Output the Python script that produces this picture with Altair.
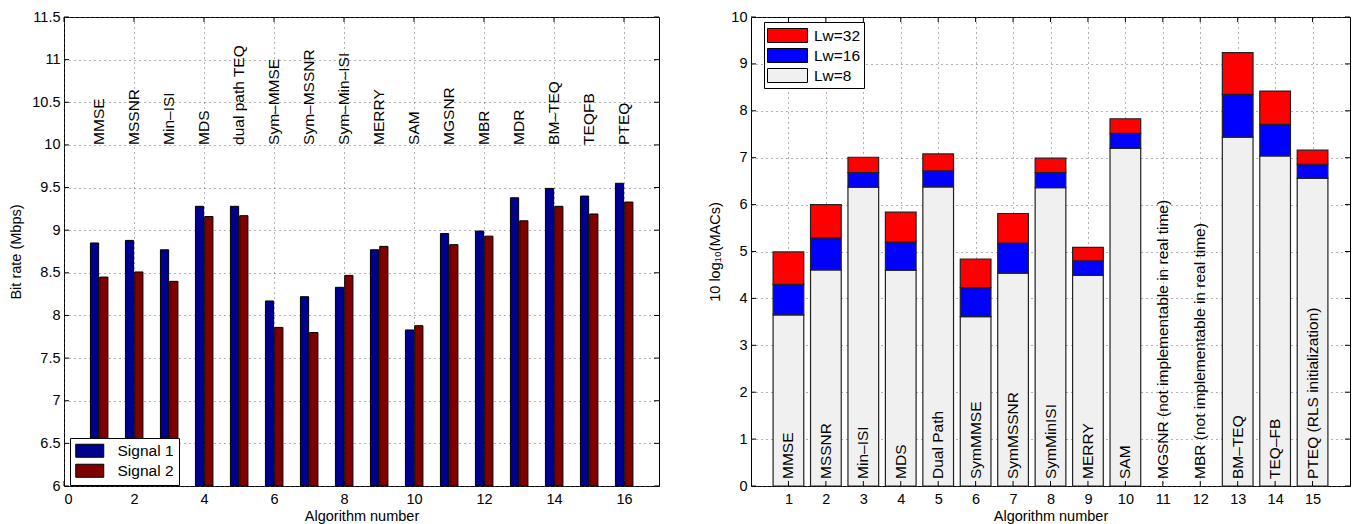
import altair as alt
import pandas as pd

FONT = "Liberation Sans"

# ---------------- left chart data ----------------
alg_left = list(range(1, 17))
names_left = ["MMSE", "MSSNR", "Min\u2013ISI", "MDS", "dual path TEQ", "Sym\u2013MMSE",
              "Sym\u2013MSSNR", "Sym\u2013Min\u2013ISI", "MERRY", "SAM", "MGSNR", "MBR",
              "MDR", "BM\u2013TEQ", "TEQFB", "PTEQ"]
signal1 = [8.85, 8.88, 8.77, 9.28, 9.28, 8.17, 8.22, 8.33, 8.77, 7.83, 8.96, 8.99, 9.38, 9.49, 9.40, 9.55]
signal2 = [8.45, 8.51, 8.40, 9.16, 9.17, 7.86, 7.80, 8.47, 8.81, 7.88, 8.83, 8.93, 9.11, 9.28, 9.19, 9.33]
left_xticks = [0, 2, 4, 6, 8, 10, 12, 14, 16]
left_yticks = [6, 6.5, 7, 7.5, 8, 8.5, 9, 9.5, 10, 10.5, 11, 11.5]

# ---------------- right chart data ----------------
alg_right = list(range(1, 16))
names_right = ["MMSE", "MSSNR", "Min\u2013ISI", "MDS", "Dual Path", "SymMMSE", "SymMSSNR",
               "SymMinISI", "MERRY", "SAM", "MGSNR (not implementable in real time)",
               "MBR (not implementable in real time)", "BM\u2013TEQ", "TEQ\u2013FB",
               "PTEQ (RLS initialization)"]
lw8 = [3.65, 4.61, 6.37, 4.60, 6.38, 3.61, 4.54, 6.36, 4.49, 7.20, None, None, 7.44, 7.04, 6.56]
lw16 = [4.30, 5.29, 6.68, 5.20, 6.72, 4.23, 5.18, 6.68, 4.80, 7.52, None, None, 8.35, 7.71, 6.86]
lw32 = [4.99, 6.00, 7.01, 5.84, 7.08, 4.84, 5.81, 6.99, 5.09, 7.83, None, None, 9.24, 8.42, 7.16]
right_xticks = list(range(1, 16))
right_yticks = [0, 1, 2, 3, 4, 5, 6, 7, 8, 9, 10]

LW, LH = 595, 469
RW, RH = 599, 469
TXT = 15.5

# ---------------- left chart ----------------
rows = []
for a, s1, s2 in zip(alg_left, signal1, signal2):
    rows.append({"x0": a - 0.245, "x1": a - 0.01, "lo": 6, "val": s1, "series": "Signal 1"})
    rows.append({"x0": a + 0.02, "x1": a + 0.255, "lo": 6, "val": s2, "series": "Signal 2"})
df_left = pd.DataFrame(rows)

xs_left = alt.Scale(domain=[0, 17], nice=False, zero=False)
ys_left = alt.Scale(domain=[6, 11.5], nice=False, zero=False)
ax_lx = alt.Axis(values=left_xticks, title="Algorithm number", grid=True, format="d")
ax_ly = alt.Axis(values=left_yticks, title="Bit rate (Mbps)", grid=True, format="~g")

bars_left = alt.Chart(df_left).mark_rect(stroke="black", strokeWidth=1, clip=True).encode(
    x=alt.X("x0:Q", scale=xs_left, axis=ax_lx),
    x2="x1:Q",
    y=alt.Y("val:Q", scale=ys_left, axis=ax_ly),
    y2="lo:Q",
    color=alt.Color("series:N",
                    scale=alt.Scale(domain=["Signal 1", "Signal 2"], range=["#00008F", "#800000"]),
                    legend=alt.Legend(title=None, orient="none", legendX=6, legendY=421,
                                      symbolType="M-1,-0.93H3V0.93H-1Z", symbolSize=196,
                                      symbolStrokeColor="black", symbolStrokeWidth=1,
                                      symbolOpacity=1, labelFontSize=TXT, labelFont=FONT,
                                      labelColor="black",
                                      fillColor="white", strokeColor="black", padding=5,
                                      rowPadding=2, labelOffset=27)),
)

df_lt = pd.DataFrame({"alg": alg_left, "name": names_left})
text_left = alt.Chart(df_lt).mark_text(angle=270, align="left", baseline="middle",
                                       font=FONT, fontSize=TXT, color="black").encode(
    x=alt.X("alg:Q", scale=xs_left, axis=ax_lx),
    y=alt.YDatum(10, scale=ys_left, axis=ax_ly),
    text="name:N",
)

df_lxt = pd.DataFrame({"v": left_xticks})
df_lyt = pd.DataFrame({"v": left_yticks})
tk = dict(color="black", strokeWidth=1)
lt_b = alt.Chart(df_lxt).mark_rule(**tk).encode(x=alt.X("v:Q", scale=xs_left, axis=ax_lx),
                                                y=alt.value(LH - 5), y2=alt.value(LH))
lt_t = alt.Chart(df_lxt).mark_rule(**tk).encode(x=alt.X("v:Q", scale=xs_left, axis=ax_lx),
                                                y=alt.value(0), y2=alt.value(5))
lt_l = alt.Chart(df_lyt).mark_rule(**tk).encode(y=alt.Y("v:Q", scale=ys_left, axis=ax_ly),
                                                x=alt.value(0), x2=alt.value(5))
lt_r = alt.Chart(df_lyt).mark_rule(**tk).encode(y=alt.Y("v:Q", scale=ys_left, axis=ax_ly),
                                                x=alt.value(LW - 5), x2=alt.value(LW))

left = alt.layer(bars_left, text_left, lt_b, lt_t, lt_l, lt_r).properties(width=LW, height=LH)

# ---------------- right chart ----------------
rows = []
for a, v8, v16, v32 in zip(alg_right, lw8, lw16, lw32):
    if v8 is None:
        continue
    rows.append({"x0": a - 0.41, "x1": a + 0.41, "lo": 0, "hi": v8, "series": "Lw=8"})
    rows.append({"x0": a - 0.41, "x1": a + 0.41, "lo": v8, "hi": v16, "series": "Lw=16"})
    rows.append({"x0": a - 0.41, "x1": a + 0.41, "lo": v16, "hi": v32, "series": "Lw=32"})
df_right = pd.DataFrame(rows)

xs_right = alt.Scale(domain=[0, 16], nice=False, zero=False)
ys_right = alt.Scale(domain=[0, 10], nice=False)
ax_rx = alt.Axis(values=right_xticks, title="Algorithm number", grid=True, format="d")
ax_ry = alt.Axis(values=right_yticks, title="10 log\u2081\u2080(MACs)", grid=True, format="d")

bars_right = alt.Chart(df_right).mark_rect(stroke="#222222", strokeWidth=1.2).encode(
    x=alt.X("x0:Q", scale=xs_right, axis=ax_rx),
    x2="x1:Q",
    y=alt.Y("hi:Q", scale=ys_right, axis=ax_ry),
    y2="lo:Q",
    color=alt.Color("series:N",
                    scale=alt.Scale(domain=["Lw=32", "Lw=16", "Lw=8"],
                                    range=["#FF0000", "#0000FF", "#F0F0F0"]),
                    legend=alt.Legend(title=None, orient="none", legendX=13, legendY=5,
                                      symbolType="M-1,-0.7H3V0.7H-1Z", symbolSize=400,
                                      symbolStrokeColor="black", symbolStrokeWidth=1,
                                      symbolOpacity=1, labelFontSize=TXT, labelFont=FONT,
                                      labelColor="black",
                                      fillColor="white", strokeColor="black", padding=3,
                                      rowPadding=0, labelOffset=26)),
)

df_rt = pd.DataFrame({"alg": alg_right, "name": names_right})
text_right = alt.Chart(df_rt).mark_text(angle=270, align="left", baseline="middle",
                                        font=FONT, fontSize=TXT, color="black").encode(
    x=alt.X("alg:Q", scale=xs_right, axis=ax_rx),
    y=alt.YDatum(0.15, scale=ys_right, axis=ax_ry),
    text="name:N",
)

df_rxt = pd.DataFrame({"v": right_xticks})
df_ryt = pd.DataFrame({"v": right_yticks})
rt_b = alt.Chart(df_rxt).mark_rule(**tk).encode(x=alt.X("v:Q", scale=xs_right, axis=ax_rx),
                                                y=alt.value(RH - 5), y2=alt.value(RH))
rt_t = alt.Chart(df_rxt).mark_rule(**tk).encode(x=alt.X("v:Q", scale=xs_right, axis=ax_rx),
                                                y=alt.value(0), y2=alt.value(5))
rt_l = alt.Chart(df_ryt).mark_rule(**tk).encode(y=alt.Y("v:Q", scale=ys_right, axis=ax_ry),
                                                x=alt.value(0), x2=alt.value(5))
rt_r = alt.Chart(df_ryt).mark_rule(**tk).encode(y=alt.Y("v:Q", scale=ys_right, axis=ax_ry),
                                                x=alt.value(RW - 5), x2=alt.value(RW))

right = alt.layer(bars_right, text_right, rt_b, rt_t, rt_l, rt_r).properties(width=RW, height=RH)

chart = alt.hconcat(left, right, spacing=47).resolve_scale(color="independent").properties(
    padding={"left": 0, "top": 0, "right": 0, "bottom": 0}
).configure_view(stroke="black", strokeWidth=1).configure_axis(
    labelFont=FONT, titleFont=FONT, labelFontSize=14.5, titleFontSize=14.5,
    labelColor="black", titleColor="black", titleFontWeight="normal",
    tickSize=0, labelPadding=4, domain=False, titlePadding=8,
    gridColor="#555555", gridDash=[1, 4], gridWidth=1, gridOpacity=0.9,
).configure_axisX(titlePadding=4, labelPadding=6).configure_title(font=FONT)

chart.save("out.html", embed_options={"renderer": "svg", "actions": False})
